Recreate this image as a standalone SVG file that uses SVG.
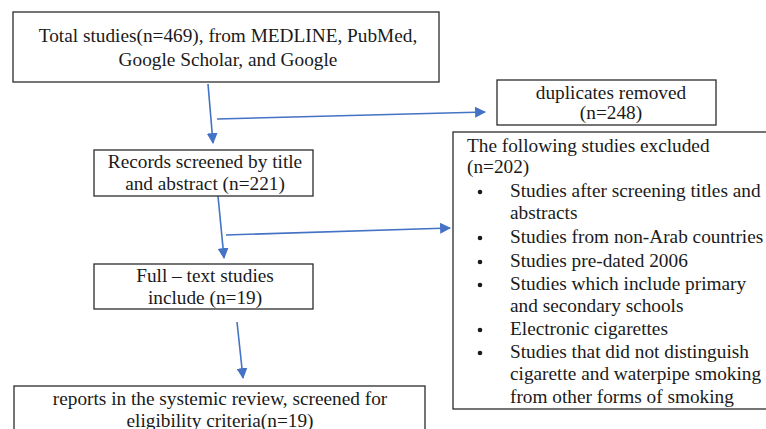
<svg xmlns="http://www.w3.org/2000/svg" width="766" height="429" viewBox="0 0 766 429">
  <style>
    .box { fill: #ffffff; stroke: #2b2b2b; stroke-width: 1.3; }
    .t { font-family: "Liberation Serif", "Times New Roman", serif; font-size: 19.3px; fill: #1a1a1a; }
    .c { text-anchor: middle; }
    .conn { stroke: #4472c4; stroke-width: 1.6; fill: none; marker-end: url(#arrow); }
  </style>
  <defs>
    <marker id="arrow" viewBox="0 0 10 10" refX="9" refY="5" markerWidth="11" markerHeight="11" markerUnits="userSpaceOnUse" orient="auto">
      <path d="M0,0 L10,5 L0,10 z" fill="#4472c4"/>
    </marker>
  </defs>

  <rect width="766" height="429" fill="#ffffff"/>

  <g id="connectors">
    <line class="conn" x1="208" y1="84" x2="213" y2="143"/>
    <line class="conn" x1="217" y1="119" x2="485" y2="112"/>
    <line class="conn" x1="218" y1="196" x2="224" y2="258"/>
    <line class="conn" x1="226" y1="235" x2="450" y2="228"/>
    <line class="conn" x1="237" y1="322" x2="243" y2="378"/>
  </g>

  <g id="total">
    <rect class="box" x="13" y="12" width="426" height="70"/>
    <text class="t c" x="228" y="42">Total studies(n=469), from MEDLINE, PubMed,</text>
    <text class="t c" x="228" y="66">Google Scholar, and Google</text>
  </g>

  <g id="duplicates">
    <rect class="box" x="497" y="80" width="219" height="45"/>
    <text class="t c" x="611" y="99">duplicates removed</text>
    <text class="t c" x="611" y="119">(n=248)</text>
  </g>

  <g id="excluded">
    <rect class="box" x="453" y="132" width="330" height="277"/>
    <text class="t" x="467" y="152">The following studies excluded</text>
    <text class="t" x="467" y="173">(n=202)</text>
    <g class="t">
      <circle cx="480" cy="192" r="2.3" fill="#1a1a1a"/>
      <text x="510" y="197">Studies after screening titles and</text>
      <text x="510" y="219">abstracts</text>
      <circle cx="480" cy="238" r="2.3" fill="#1a1a1a"/>
      <text x="510" y="243">Studies from non-Arab countries</text>
      <circle cx="480" cy="262" r="2.3" fill="#1a1a1a"/>
      <text x="510" y="267">Studies pre-dated 2006</text>
      <circle cx="480" cy="285" r="2.3" fill="#1a1a1a"/>
      <text x="510" y="290">Studies which include primary</text>
      <text x="510" y="312">and secondary schools</text>
      <circle cx="480" cy="330" r="2.3" fill="#1a1a1a"/>
      <text x="510" y="335">Electronic cigarettes</text>
      <circle cx="480" cy="353" r="2.3" fill="#1a1a1a"/>
      <text x="510" y="358">Studies that did not distinguish</text>
      <text x="510" y="380">cigarette and waterpipe smoking</text>
      <text x="510" y="403">from other forms of smoking</text>
    </g>
  </g>

  <g id="screened">
    <rect class="box" x="94" y="150" width="219" height="46"/>
    <text class="t c" x="205" y="168">Records screened by title</text>
    <text class="t c" x="205" y="190">and abstract (n=221)</text>
  </g>

  <g id="fulltext">
    <rect class="box" x="94" y="264" width="219" height="45"/>
    <text class="t c" x="205" y="282">Full – text studies</text>
    <text class="t c" x="205" y="304">include (n=19)</text>
  </g>

  <g id="reports">
    <rect class="box" x="14" y="386" width="411" height="60"/>
    <text class="t c" x="220" y="405">reports in the systemic review, screened for</text>
    <text class="t c" x="220" y="427">eligibility criteria(n=19)</text>
  </g>
</svg>
